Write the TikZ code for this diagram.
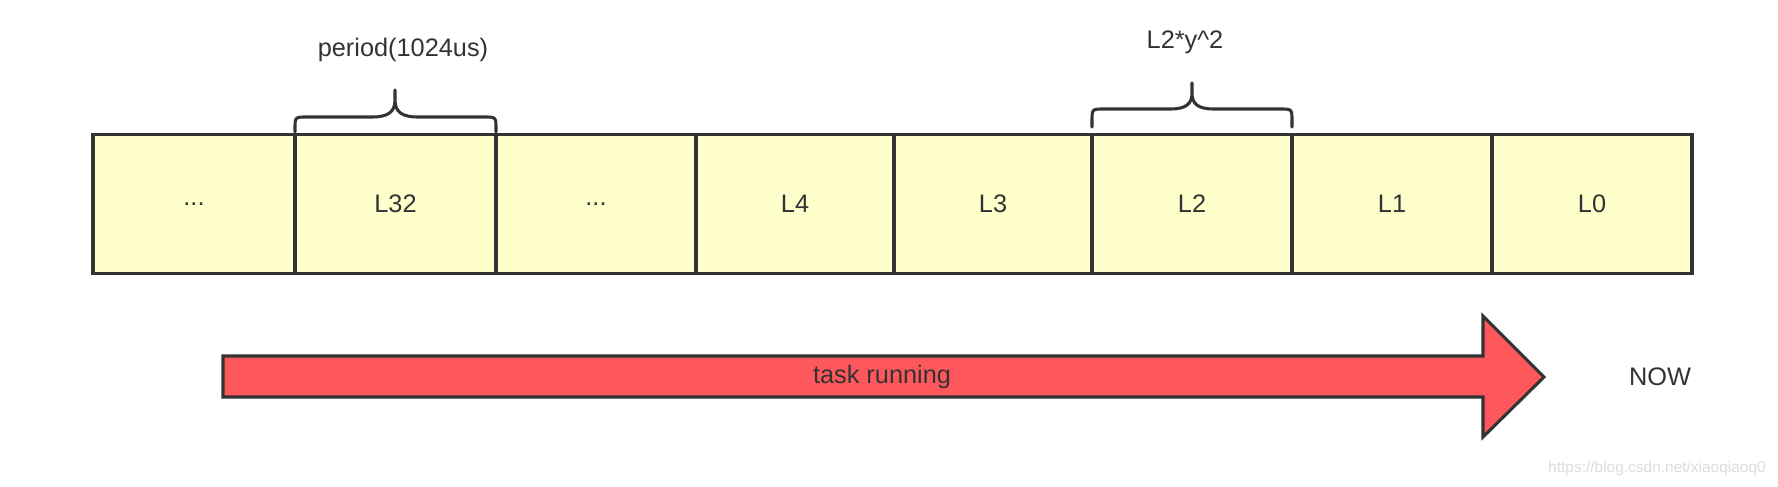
\documentclass[tikz,border=0pt]{standalone}
\usepackage{fontspec}
\setmainfont{Liberation Sans}
\definecolor{boxfill}{HTML}{FFFFCC}
\definecolor{linecol}{HTML}{333333}
\definecolor{arrowfill}{HTML}{FF585C}
\definecolor{wmark}{HTML}{DCDCDC}
\tikzset{
  cell/.style={draw=linecol, fill=boxfill, line width=2.4pt, minimum height=104.25pt, inner sep=0pt, text=linecol, font=\fontsize{19}{22}\selectfont},
  bracepath/.style={draw=linecol, line width=2.3pt, line cap=round, line join=round},
  label/.style={text=linecol, font=\fontsize{19}{22}\selectfont, inner sep=0pt},
}
\begin{document}
\begin{tikzpicture}[x=0.75pt,y=-0.75pt]
\useasboundingbox (0,0) rectangle (1778,486);
% cells
\foreach \l/\r/\t/\n in {93/295/{...}/c1, 295/496/L32/c2, 496/696/{...}/c3, 696/894/L4/c4, 894/1092/L3/c5, 1092/1292/L2/c6, 1292/1492/L1/c7, 1492/1692/L0/c8}{
  \pgfmathsetmacro{\w}{(\r-\l)*0.75}
  \node[cell, minimum width=\w pt] (\n) at ({(\l+\r)/2},204) {\t};
}
% braces
\draw[bracepath] (295,132) -- (295,129) .. controls (295,117) .. (307,117) -- (372,117)
  .. controls (388,117) and (395,112) .. (395,100) -- (395,90)
  (395,100) .. controls (395,112) and (402,117) .. (418,117) -- (484,117)
  .. controls (496,117) .. (496,129) -- (496,132);
\draw[bracepath] (1092,127) -- (1092,121) .. controls (1092,109) .. (1104,109) -- (1170,109)
  .. controls (1186,109) and (1192,104) .. (1192,93) -- (1192,83)
  (1192,93) .. controls (1192,104) and (1198,109) .. (1214,109) -- (1280,109)
  .. controls (1292,109) .. (1292,121) -- (1292,127);
\node[label] (p1) at (403,50) {period(1024us)};
\node[label] (p2) at (1185,42) {L2*y\^{}2};
% arrow
\draw[draw=linecol, fill=arrowfill, line width=2.3pt, line join=miter]
  (223,356) -- (1483,356) -- (1483,316) -- (1544,377) -- (1483,437) -- (1483,397) -- (223,397) -- cycle;
\node[label] (tr) at (882,377) {task running};
\node[label] (now) at (1660,377) {NOW};
\node[text=wmark, font=\fontsize{11.6}{14}\selectfont, inner sep=0pt] (wm) at (1657,468) {https://blog.csdn.net/xiaoqiaoq0};
\end{tikzpicture}
\end{document}
